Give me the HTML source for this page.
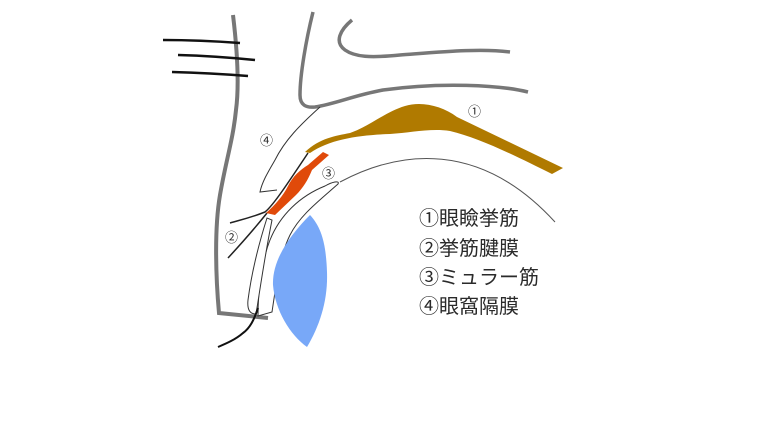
<!DOCTYPE html>
<html><head><meta charset="utf-8"><style>
html,body{margin:0;padding:0;background:#fff;}
svg{display:block;}
text{font-family:"Liberation Sans","Noto Sans CJK JP",sans-serif;fill:#2a2a2a;}
</style></head><body>
<svg width="768" height="432" viewBox="0 0 768 432" xmlns="http://www.w3.org/2000/svg">
<rect width="768" height="432" fill="#fff"/>
<!-- skin outline -->
<path d="M233,15 C236,40 240,80 236,110 C233,140 226,160 220,195 C214,230 216,280 219,313 L268,318" fill="none" stroke="#777" stroke-width="4"/>
<!-- lashes -->
<path d="M163,40 Q200,40 240,43 M178,55 Q215,56 255,60 M172,72 Q210,73 248,76" stroke="#111" stroke-width="2.5" fill="none"/>
<!-- bone lines -->
<path d="M313,12 C306,40 300,75 300,95 C300,105 306,108 315,107 C335,104 355,95 383,90 C440,82 500,85 528,92" fill="none" stroke="#777" stroke-width="3.5"/>
<path d="M352,20 C340,30 334,42 345,50 C355,57 370,58 400,55 C440,52 480,48 510,52" fill="none" stroke="#777" stroke-width="3.5"/>
<!-- septum -->
<path d="M320,107 C300,125 285,140 275,160 C268,172 262,182 260,192 L277,190" fill="none" stroke="#333" stroke-width="1"/>
<!-- levator -->
<path d="M305,152 C320,138 335,136 350,133 C370,126 385,112 405,106 C422,101 442,106 457,117 L563,168 L552,174 C520,158 480,138 450,131 C430,128 410,133 390,134 C360,135 330,139 310,153 Z" fill="#b07a00"/>
<!-- aponeurosis lines -->
<path d="M308,153 C298,168 290,180 283,190 C276,200 270,208 265,212 C250,218 240,220 230,223" fill="none" stroke="#222" stroke-width="1.5"/>
<path d="M267,213 C255,228 240,245 228,258" fill="none" stroke="#222" stroke-width="1.5"/>
<!-- orange muller -->
<path d="M323,152 L329,155 L312,170 C308,180 303,188 296,195 L275,215 L266,213 C275,205 283,196 288,186 C293,176 300,170 308,165 Z" fill="#e04a0a"/>
<!-- conjunctiva arc -->
<path d="M340,182 C400,150 480,140 555,222" fill="none" stroke="#555" stroke-width="1"/>
<!-- tarsus -->
<path d="M325,186 C332,182 340,180 338,184 C320,200 300,215 290,235 C280,255 276,285 272,312 L258,316 C258,290 262,260 270,240 C280,215 300,196 325,186 Z" fill="#fff" stroke="#333" stroke-width="1"/>
<path d="M267,218 C260,240 252,270 248,300 C247,310 250,314 256,314 C260,290 264,260 272,220 Z" fill="#fff" stroke="#333" stroke-width="1"/>
<!-- cornea -->
<path d="M310,215 C290,235 272,260 273,285 C275,310 290,335 307,347 C320,325 328,300 327,272 C326,245 322,228 310,215 Z" fill="#78a8f8"/>
<!-- lower black line -->
<path d="M258,308 C254,320 250,328 243,333 C235,340 225,344 218,347" fill="none" stroke="#111" stroke-width="2"/>
<!-- labels -->
<text x="468" y="116" font-size="13">①</text>
<text x="260" y="145" font-size="13">④</text>
<text x="225" y="242" font-size="13">②</text>
<text x="322" y="178" font-size="13">③</text>
<text x="419" y="225" font-size="20">①眼瞼挙筋</text>
<text x="419" y="255" font-size="20">②挙筋腱膜</text>
<text x="419" y="284" font-size="20">③ミュラー筋</text>
<text x="419" y="313" font-size="20">④眼窩隔膜</text>
</svg>
</body></html>
